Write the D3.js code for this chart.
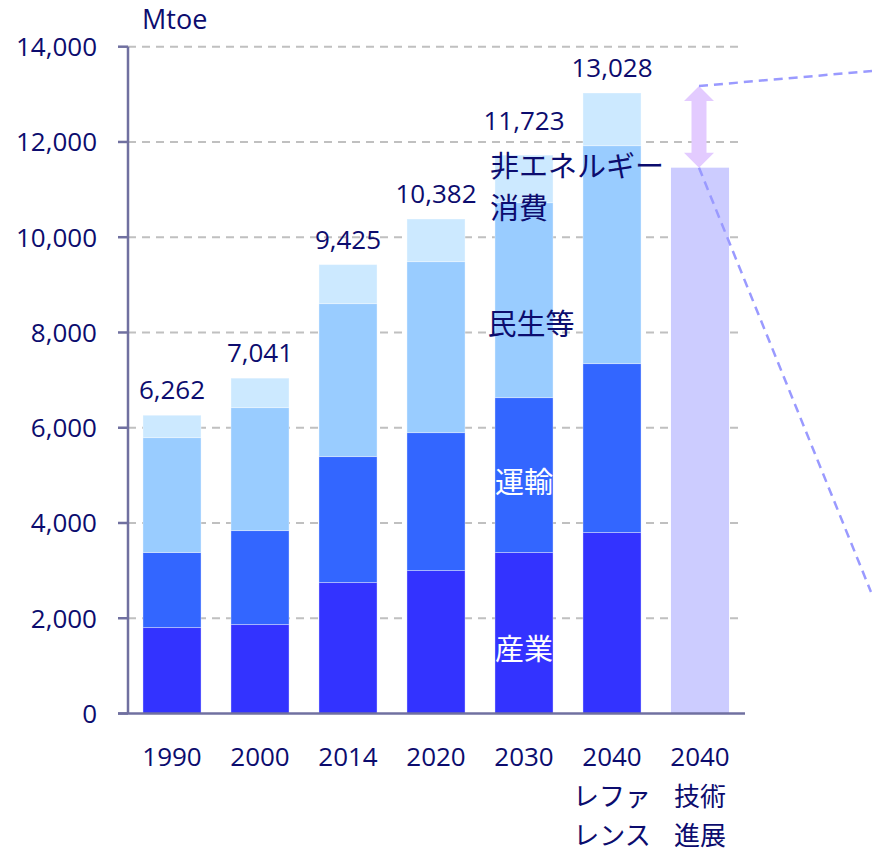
<!DOCTYPE html>
<html>
<head>
<meta charset="utf-8">
<script src="https://cdn.jsdelivr.net/npm/d3@7"></script>
<style>
  html, body { margin: 0; padding: 0; background: #fff; }
  svg text { font-family: "Open Sans", "Noto Sans CJK JP", sans-serif; }
</style>
</head>
<body>
<svg id="chart" width="872" height="852"></svg>
<script>
// Final energy consumption by sector (Mtoe)
const categoryLines = [
  ["1990"], ["2000"], ["2014"], ["2020"], ["2030"],
  ["2040", "レファ", "レンス"],
  ["2040", "技術", "進展"]
];
const sectorNames = ["産業", "運輸", "民生等", "非エネルギー消費"];
const industry   = [1805, 1868, 2750, 3002, 3380, 3800];
const transport  = [1575, 1973, 2645, 2896, 3253, 3547];
const buildings  = [2413, 2582, 3211, 3590, 4093, 4576];
const nonEnergy  = [ 469,  618,  819,  894,  997, 1105];
const totals     = [6262, 7041, 9425, 10382, 11723, 13028];
const techTotal  = 11460;
const yTicks     = [0, 2000, 4000, 6000, 8000, 10000, 12000, 14000];

const colors = ["#3333ff", "#3366ff", "#99ccff", "#cce9ff"];
const techColor = "#ccccff";
const textColor = "#0c0c6e";
const axisColor = "#7070a0";

const svg = d3.select("#chart");

const keys = categoryLines.map((d, i) => i);
const x = d3.scaleBand().domain(keys).range([128, 744])
  .paddingInner(0.34).paddingOuter(0.17);
const y = d3.scaleLinear().domain([0, 14000]).range([713.5, 46.7]);

// gridlines
svg.append("g").selectAll("line").data(yTicks.filter(v => v > 0)).join("line")
  .attr("x1", 128).attr("x2", 738)
  .attr("y1", d => y(d)).attr("y2", d => y(d))
  .attr("stroke", "#c0c0c0").attr("stroke-width", 2)
  .attr("stroke-dasharray", "8,6");

// stacked bars
const rows = industry.map((v, i) => ({
  key: i, s0: industry[i], s1: transport[i], s2: buildings[i], s3: nonEnergy[i]
}));
const stack = d3.stack().keys(["s0", "s1", "s2", "s3"]);
const series = stack(rows);

svg.append("g").selectAll("g").data(series).join("g")
  .attr("fill", (d, i) => colors[i])
  .selectAll("rect").data(d => d).join("rect")
  .attr("x", d => x(d.data.key))
  .attr("width", x.bandwidth())
  .attr("y", d => y(d[1]))
  .attr("height", d => y(d[0]) - y(d[1]))
  .attr("stroke", "rgba(255,255,255,0.35)").attr("stroke-width", 1);

// technology-progress scenario bar
svg.append("rect")
  .attr("x", x(6)).attr("width", x.bandwidth())
  .attr("y", y(techTotal)).attr("height", y(0) - y(techTotal))
  .attr("fill", techColor);

// axes
const axisG = svg.append("g").attr("stroke", axisColor).attr("stroke-width", 2.5);
axisG.append("line").attr("x1", 128).attr("x2", 128).attr("y1", y(14000)).attr("y2", y(0));
axisG.append("line").attr("x1", 118).attr("x2", 745).attr("y1", y(0)).attr("y2", y(0));
axisG.selectAll("line.tick").data(yTicks).join("line").attr("class", "tick")
  .attr("x1", 118).attr("x2", 128).attr("y1", d => y(d)).attr("y2", d => y(d));

const fmt = d3.format(",");
svg.append("g").selectAll("text").data(yTicks).join("text")
  .attr("x", 97).attr("y", d => y(d)).attr("dy", "0.36em")
  .attr("text-anchor", "end").attr("font-size", 26).attr("fill", textColor)
  .text(d => fmt(d));

svg.append("text").attr("x", 142).attr("y", 29)
  .attr("font-size", 27).attr("fill", textColor).text("Mtoe");

// category labels
const catG = svg.append("g").selectAll("text").data(keys).join("text")
  .attr("x", d => x(d) + x.bandwidth() / 2)
  .attr("y", 766)
  .attr("text-anchor", "middle").attr("font-size", 26).attr("fill", textColor);
catG.selectAll("tspan").data(d => categoryLines[d].map((t, j) => ({ t, j }))).join("tspan")
  .attr("x", function () { return d3.select(this.parentNode).attr("x"); })
  .attr("dy", d => d.j === 0 ? 0 : 39.5)
  .text(d => d.t);

// total labels
svg.append("g").selectAll("text").data(totals).join("text")
  .attr("x", (d, i) => x(i) + x.bandwidth() / 2)
  .attr("y", (d, i) => y(d) - (i === 4 ? 25 : 16))
  .attr("text-anchor", "middle").attr("font-size", 26).attr("fill", textColor)
  .text(d => fmt(d));

// sector labels on the 2030 bar
const cx = x(4) + x.bandwidth() / 2;
svg.append("text").attr("x", cx).attr("y", y(1330)).attr("dy", "0.35em")
  .attr("text-anchor", "middle").attr("font-size", 29).attr("fill", "#fff").text(sectorNames[0]);
svg.append("text").attr("x", cx).attr("y", y(4840)).attr("dy", "0.35em")
  .attr("text-anchor", "middle").attr("font-size", 29).attr("fill", "#fff").text(sectorNames[1]);
svg.append("text").attr("x", cx + 7).attr("y", y(8150)).attr("dy", "0.35em")
  .attr("text-anchor", "middle").attr("font-size", 29).attr("fill", textColor).text(sectorNames[2]);
svg.append("text").attr("x", x(4) - 5).attr("y", y(11470)).attr("dy", "0.35em")
  .attr("font-size", 29).attr("fill", textColor).text("非エネルギー");
svg.append("text").attr("x", x(4) - 5).attr("y", y(10590)).attr("dy", "0.35em")
  .attr("font-size", 29).attr("fill", textColor).text("消費");

// reduction arrow between the two 2040 scenarios
const ax = x(6) + x.bandwidth() / 2 - 1;
const yTop = y(totals[5]) - 7, yBot = y(techTotal);
const hw = 15, sw = 7.5, hh = 15;
svg.append("path")
  .attr("d", `M${ax},${yTop} L${ax + hw},${yTop + hh} L${ax + sw},${yTop + hh}
    L${ax + sw},${yBot - hh} L${ax + hw},${yBot - hh} L${ax},${yBot}
    L${ax - hw},${yBot - hh} L${ax - sw},${yBot - hh} L${ax - sw},${yTop + hh}
    L${ax - hw},${yTop + hh} Z`)
  .attr("fill", "#e3cbff");

// leader lines to the detail panel
const lead = svg.append("g").attr("stroke", "#9a9aff").attr("stroke-width", 2.5)
  .attr("stroke-dasharray", "9,6").attr("fill", "none");
lead.append("line").attr("x1", ax).attr("y1", yTop).attr("x2", 872).attr("y2", 71);
lead.append("line").attr("x1", ax).attr("y1", yBot).attr("x2", 871).attr("y2", 592);
</script>
</body>
</html>
